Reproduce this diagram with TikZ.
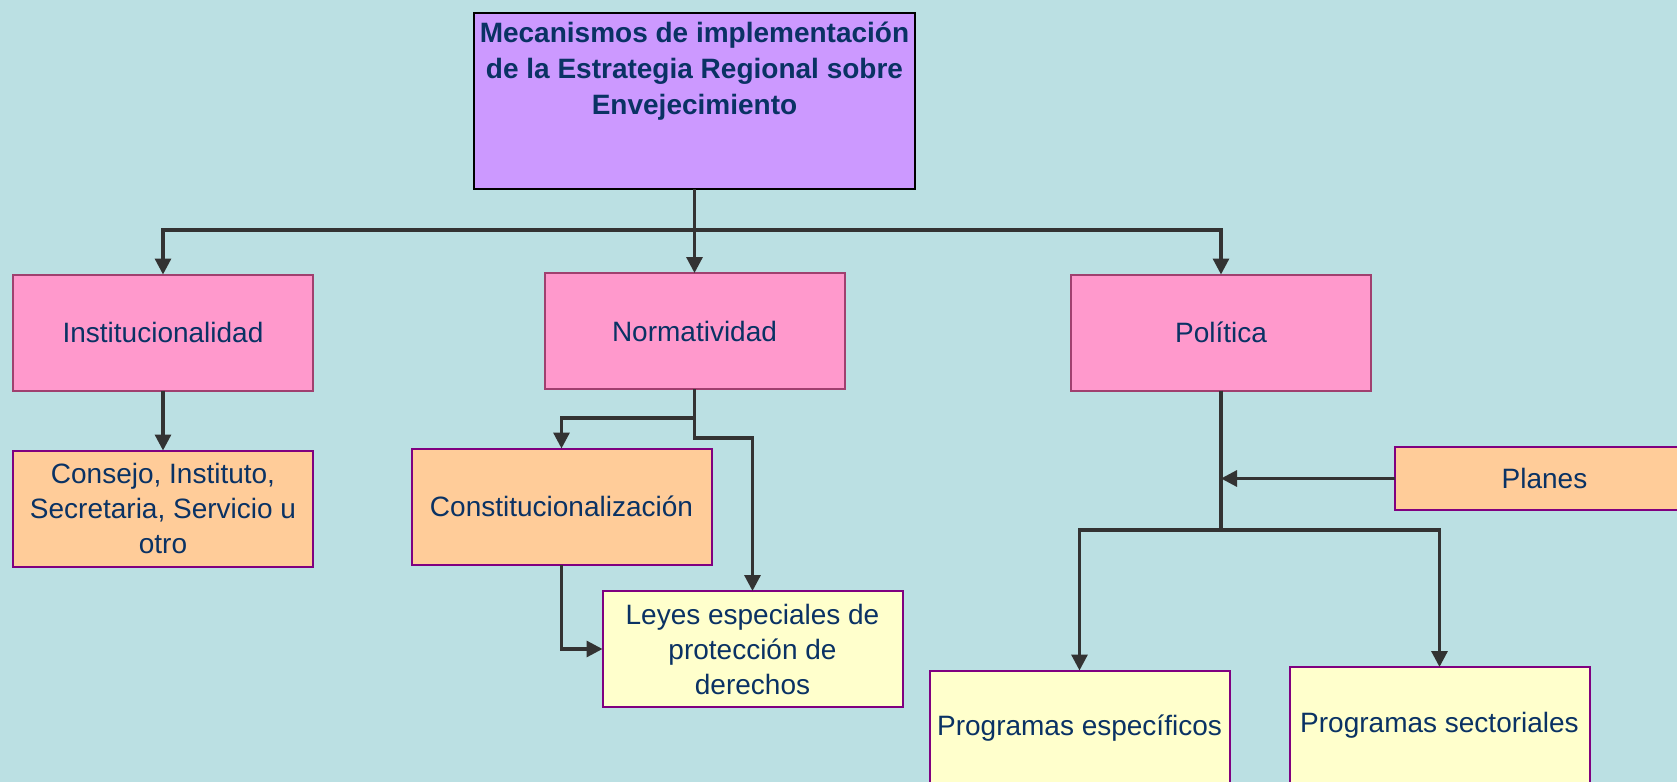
\documentclass[tikz,border=0pt]{standalone}
\usepackage{fontspec}
\setmainfont{Liberation Sans}
\usetikzlibrary{arrows.meta}
\definecolor{bgc}{HTML}{BBE0E3}
\definecolor{navy}{HTML}{0A3264}
\definecolor{lilac}{HTML}{CC99FF}
\definecolor{pinkf}{HTML}{FF99CC}
\definecolor{pinkd}{HTML}{A0406F}
\definecolor{orangef}{HTML}{FFCC99}
\definecolor{yellowf}{HTML}{FFFFCC}
\definecolor{purpled}{HTML}{800080}
\definecolor{connc}{HTML}{333333}
\tikzset{
  basebox/.style={rectangle, draw, line width=1pt, inner sep=0pt, outer sep=0pt,
    minimum width=150pt, minimum height=58pt, align=center, text=navy,
    font=\fontsize{14}{17.5}\selectfont},
  titlebox/.style={basebox, draw=black, fill=lilac, inner xsep=0pt, inner ysep=4pt},
  mainbox/.style={basebox, draw=pinkd, fill=pinkf},
  orangebox/.style={basebox, draw=purpled, fill=orangef},
  yellowbox/.style={basebox, draw=purpled, fill=yellowf},
  conn/.style={draw=connc, line width=1.6pt},
  arr/.style={conn, -{Triangle[length=8pt,width=8pt]}}
}
\begin{document}
\begin{tikzpicture}[x=0.5pt,y=-0.5pt]
\fill[bgc] (0,0) rectangle (1677,782);
\useasboundingbox (0,0) rectangle (1677,782);
\clip (0,0) rectangle (1677,782);

\node[titlebox] (title) at (694.5,101)
  {\parbox[t][80pt][t]{220.5pt}{\centering\bfseries\fontsize{14}{18}\selectfont
   \vspace*{0.5pt}Mecanismos de implementación\\ de la Estrategia Regional sobre\\ Envejecimiento}};

\node[mainbox] (inst) at (163,332.5) {Institucionalidad};
\node[mainbox] (norm) at (694.5,331) {Normatividad};
\node[mainbox] (pol) at (1221,332.5) {Política};

\node[orangebox] (cons) at (163,508.5) {Consejo, Instituto,\\ Secretaria, Servicio u\\ otro};
\node[orangebox] (const) at (561.5,506.5) {Constitucionalización};
\node[yellowbox] (leyes) at (752.5,649) {Leyes especiales de\\ protección de\\ derechos};
\node[orangebox, minimum height=31.5pt] (planes) at (1544.5,478.5) {Planes};
\node[yellowbox] (pesp) at (1079.5,728.5) {Programas específicos};
\node[yellowbox] (psec) at (1439.5,725) {Programas sectoriales};

\coordinate (bus) at (694.5,230);
\draw[conn] (title.south) -- (bus);
\draw[arr] (bus) -| (inst.north);
\draw[arr] (bus) -- (norm.north);
\draw[arr] (bus) -| (pol.north);

\draw[arr] (inst.south) -- (cons.north);

\draw[arr] (norm.south) -- ++(0,29) -| (const.north);
\draw[arr] (norm.south) -- ++(0,49) -| (leyes.north);
\draw[arr] (const.south) |- (leyes.west);

\coordinate (pj) at (1221,530);
\draw[conn] (pol.south) -- (pj);
\draw[arr] (planes.west) -- (pol.south |- planes.west);
\draw[arr] (pj) -| (pesp.north);
\draw[arr] (pj) -| (psec.north);
\end{tikzpicture}
\end{document}
